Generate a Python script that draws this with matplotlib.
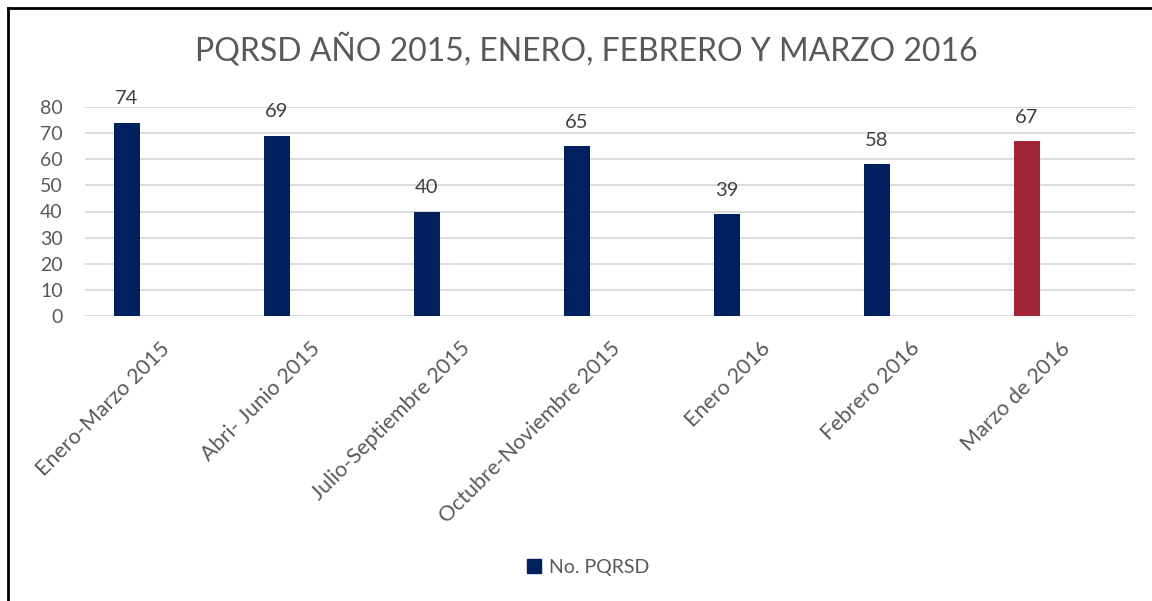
import matplotlib.pyplot as plt
import numpy as np
from matplotlib.patches import Patch

# === Données ===
periodos = ['Enero-Marzo 2015', 'Abri- Junio 2015', 'Julio-Septiembre 2015',
            'Octubre-Noviembre 2015', 'Enero 2016', 'Febrero 2016', 'Marzo de 2016']
pqrsd = [74, 69, 40, 65, 39, 58, 67]
colores = ['#002060'] * 6 + ['#A32638']

titulo = 'PQRSD AÑO 2015, ENERO, FEBRERO Y MARZO 2016'
serie = 'No. PQRSD'
gris = '#595959'

plt.rcParams['font.family'] = ['Lato', 'DejaVu Sans']

fig = plt.figure(figsize=(11.52, 6.01), dpi=100)
ax = fig.add_axes([85 / 1152, 1 - 316 / 601, 1050 / 1152, 209 / 601])

x = np.arange(len(periodos))
barras = ax.bar(x - 0.22, pqrsd, width=0.175, color=colores, label=serie, zorder=3)

for b, v in zip(barras, pqrsd):
    ax.annotate(str(v), (b.get_x() + b.get_width() / 2, v), xytext=(0, 11),
                textcoords='offset points', ha='center', va='bottom',
                fontsize=14.5, color='#404040')

ax.set_xlim(-0.5, len(periodos) - 0.5)
ax.set_ylim(0, 80)
ax.set_yticks(range(0, 81, 10))
ax.grid(axis='y', color='#d9d9d9', linewidth=1.3, zorder=0)
ax.set_xticks(x)
ax.set_xticklabels(periodos, rotation=45, ha='right', rotation_mode='anchor')
ax.tick_params(axis='x', length=0, pad=16, labelsize=15.5, labelcolor=gris)
ax.tick_params(axis='y', length=0, pad=16, labelsize=14, labelcolor=gris)
for s in ax.spines.values():
    s.set_visible(False)

fig.text(586 / 1152, 1 - 50 / 601, titulo, ha='center', va='center',
         fontsize=23, color=gris)

# légende seulement avec la couleur principale
fig.legend(handles=[Patch(color='#002060')], labels=[serie], loc='center',
           bbox_to_anchor=(588 / 1152, 1 - 567 / 601), frameon=False,
           fontsize=14, labelcolor=gris, handlelength=0.7, handleheight=0.7,
           handletextpad=0.4)

# cadre noir (haut et gauche)
fig.add_artist(plt.Line2D([8 / 1152, 1], [1 - 8 / 601] * 2, color='black', lw=2,
                          transform=fig.transFigure))
fig.add_artist(plt.Line2D([8 / 1152] * 2, [0, 1 - 8 / 601], color='black', lw=2,
                          transform=fig.transFigure))

fig.savefig('out.png', dpi=100)
